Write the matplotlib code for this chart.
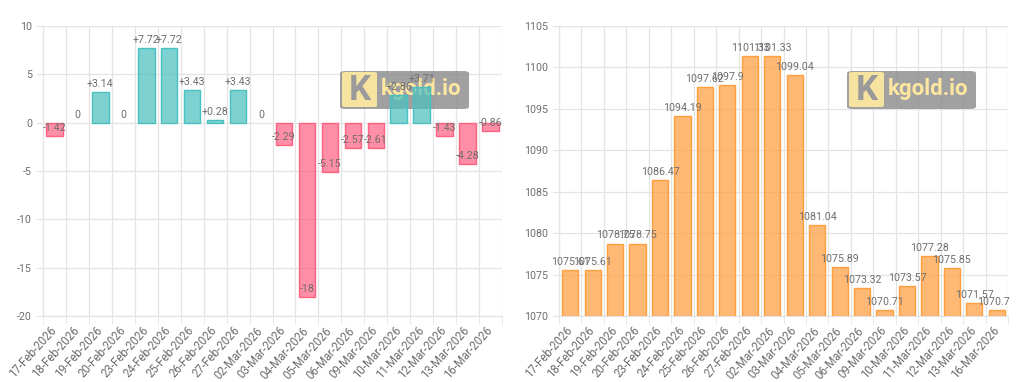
# -*- coding: UTF-8 -*-

import matplotlib
matplotlib.use("Agg")
import matplotlib.pyplot as plt
from matplotlib.patches import FancyBboxPatch
from matplotlib.transforms import Bbox, TransformedBbox

plt.rcParams["font.family"] = ["Roboto", "DejaVu Sans"]

DATES = ["17-Feb-2026", "18-Feb-2026", "19-Feb-2026", "20-Feb-2026",
         "23-Feb-2026", "24-Feb-2026", "25-Feb-2026", "26-Feb-2026",
         "27-Feb-2026", "02-Mar-2026", "03-Mar-2026", "04-Mar-2026",
         "05-Mar-2026", "06-Mar-2026", "09-Mar-2026", "10-Mar-2026",
         "11-Mar-2026", "12-Mar-2026", "13-Mar-2026", "16-Mar-2026"]

CHANGES = [-1.42, 0, 3.14, 0, 7.72, 7.72, 3.43, 0.28, 3.43, 0,
           -2.29, -18, -5.15, -2.57, -2.61, 2.86, 3.71, -1.43, -4.28, -0.86]

PRICES = [1075.61, 1075.61, 1078.75, 1078.75, 1086.47, 1094.19, 1097.62,
          1097.9, 1101.33, 1101.33, 1099.04, 1081.04, 1075.89, 1073.32,
          1070.71, 1073.57, 1077.28, 1075.85, 1071.57, 1070.71]

LEFT_YTICKS = [-20, -15, -10, -5, 0, 5, 10]
RIGHT_YTICKS = [1070, 1075, 1080, 1085, 1090, 1095, 1100, 1105]

GRID_COL = "#e4e4e4"
TEXT_COL = "#6e6e6e"
TEAL = (75/255, 192/255, 192/255)
PINK = (255/255, 99/255, 132/255)
ORANGE = (255/255, 159/255, 64/255)
FS = 7.7

W, H = 1024, 382
fig = plt.figure(figsize=(W/100, H/100), dpi=100)
ax1 = fig.add_axes([43/W, 1-316/H, 459/W, 290/H])
ax2 = fig.add_axes([559/W, 1-316/H, 449/W, 290/H])

xs = list(range(len(DATES)))


def style_axes(ax, yticks):
    ax.set_xlim(-0.5, len(DATES) - 0.5)
    ax.set_ylim(yticks[0], yticks[-1])
    ax.set_yticks(yticks)
    ax.set_yticklabels([str(t) for t in yticks])
    ax.set_xticks(xs)
    ax.set_xticklabels(DATES, rotation=48, ha="right", va="center",
                       rotation_mode="anchor")
    ax.set_xticks([x - 0.5 for x in xs] + [len(DATES) - 0.5], minor=True)
    ax.tick_params(axis="x", which="major", length=0, pad=9,
                   labelsize=8.3, labelcolor=TEXT_COL)
    ax.tick_params(axis="x", which="minor", length=6, color=GRID_COL)
    ax.tick_params(axis="y", length=5, color=GRID_COL, pad=3,
                   labelsize=FS, labelcolor=TEXT_COL)
    ax.grid(axis="x", which="minor", color=GRID_COL, linewidth=0.9)
    ax.grid(axis="y", which="major", color=GRID_COL, linewidth=0.9)
    ax.set_axisbelow(True)
    for side in ["top", "right"]:
        ax.spines[side].set_visible(False)
    for side in ["left", "bottom"]:
        ax.spines[side].set_color(GRID_COL)
        ax.spines[side].set_linewidth(0.9)


def watermark(ax, px0, px1, py0, py1):
    # box given in figure pixels (from top-left)
    x0, y0 = px0 / W, 1 - py1 / H
    bw, bh = (px1 - px0) / W, (py1 - py0) / H
    box = FancyBboxPatch((x0, y0), bw, bh,
                         boxstyle="round,pad=0,rounding_size=0.006",
                         transform=fig.transFigure, facecolor="#8a8a8a",
                         edgecolor="none", alpha=0.8, zorder=2)
    ax.add_artist(box)
    box.set_clip_on(False)
    lx0, ly0 = (px0 + 2) / W, 1 - (py1 - 2) / H
    logo = FancyBboxPatch((lx0, ly0), 35 / W, 35 / H,
                          boxstyle="round,pad=0,rounding_size=0.004",
                          transform=fig.transFigure, facecolor="#fde7a0",
                          edgecolor="none", alpha=0.95, zorder=2.1)
    ax.add_artist(logo)
    logo.set_clip_on(False)
    ax.text((px0 + 20) / W, 1 - (py0 + py1) / 2 / H, "K",
            transform=fig.transFigure, ha="center", va="center",
            fontsize=25, fontweight="bold", color="#9a9a9a", zorder=2.2)
    ax.text((px0 + 41) / W, 1 - ((py0 + py1) / 2 - 1) / H, "kgold.io",
            transform=fig.transFigure, ha="left", va="center",
            fontsize=16, fontweight="bold", color="#fde7a0", zorder=2.2)


# left chart: daily change
style_axes(ax1, LEFT_YTICKS)
watermark(ax1, 340, 469, 71, 109)
for x, v in zip(xs, CHANGES):
    col = TEAL if v >= 0 else PINK
    ax1.bar(x, v, width=0.72, color=col + (0.72,), edgecolor=col,
            linewidth=1 if v != 0 else 0, zorder=3)
    if v > 0:
        lab = "+" + f"{v:g}"
    else:
        lab = f"{v:g}"
    ax1.annotate(lab, (x, v), xytext=(0, 8), textcoords="offset pixels",
                 ha="center", va="center", fontsize=FS, color=TEXT_COL,
                 zorder=4)

# right chart: price
style_axes(ax2, RIGHT_YTICKS)
watermark(ax2, 847, 976, 71, 109)
clip = TransformedBbox(Bbox([[512/W, 0], [1010/W, 1]]), fig.transFigure)
for x, v in zip(xs, PRICES):
    ax2.bar(x, v - RIGHT_YTICKS[0], bottom=RIGHT_YTICKS[0], width=0.72,
            color=ORANGE + (0.72,), edgecolor=ORANGE, linewidth=1, zorder=3)
    t = ax2.annotate(f"{v:g}", (x, v), xytext=(0, 8),
                     textcoords="offset pixels", ha="center", va="center",
                     fontsize=FS, color=TEXT_COL, zorder=4)
    t.set_clip_box(clip)
    t.set_clip_on(True)

fig.savefig("out.png", dpi=100)
